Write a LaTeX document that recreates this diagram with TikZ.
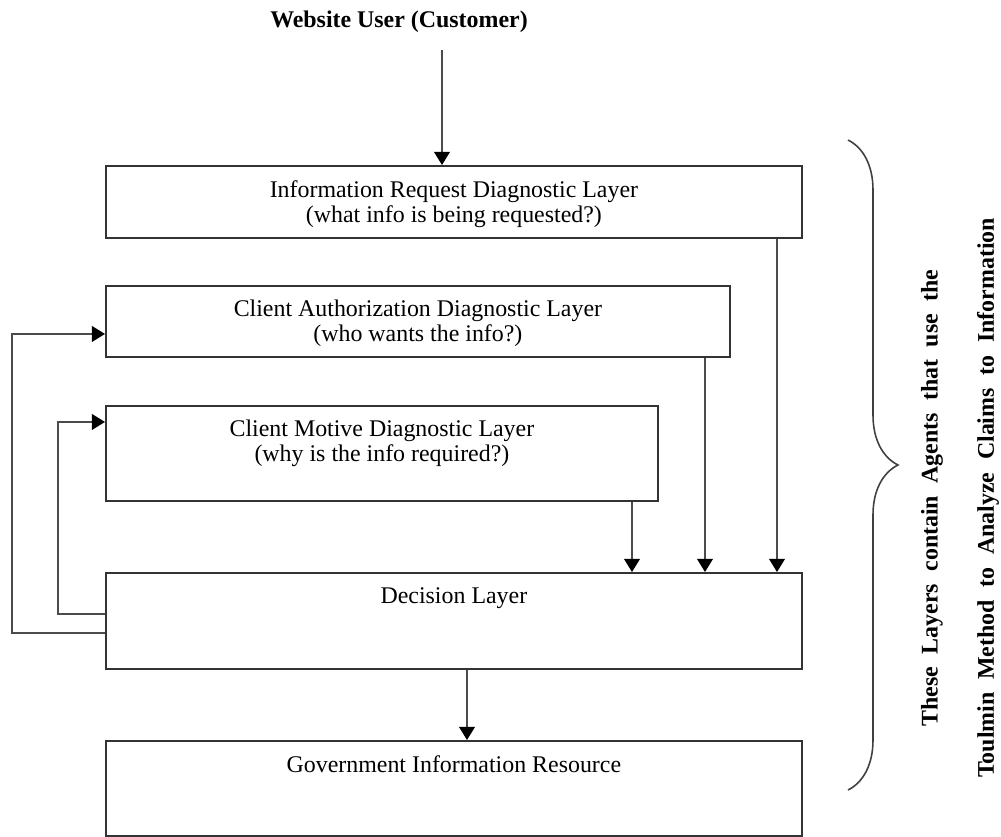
\documentclass[tikz,border=0pt]{standalone}
\usepackage{fontspec}
\setmainfont{Liberation Serif}
\usetikzlibrary{positioning}
\usetikzlibrary{arrows.meta}
\usetikzlibrary{calc}
\usetikzlibrary{decorations.pathreplacing}

\begin{document}
\begin{tikzpicture}[x=0.02cm, y=-0.02cm, font=\fontsize{13.6}{14.2}\selectfont,
  layer/.style={draw=black!80, line width=1.1pt, anchor=north west, inner sep=0pt},
  layer text/.style={inner sep=0pt, align=center},
  link/.style={draw=black!70, line width=0.9pt, -{Triangle[length=7.5pt, width=9pt, color=black]}},
  note/.style={rotate=90, inner sep=0pt, font=\fontsize{13.6}{14.2}\selectfont\bfseries}]

\useasboundingbox (0,0) rectangle (1001,836);

\node[font=\fontsize{13.6}{14.2}\selectfont\bfseries] (user) at (399,22) {Website User (Customer)};

\foreach \name/\y/\w/\h/\phrase in {
    info/165/13.92/1.44/Information Request Diagnostic Layer\\(what info is being requested?),
    auth/285/12.48/1.42/Client Authorization Diagnostic Layer\\(who wants the info?),
    motive/405/11.04/1.90/Client Motive Diagnostic Layer\\(why is the info required?),
    decision/572/13.92/1.92/Decision Layer,
    gov/740/13.92/1.90/Government Information Resource} {
  \node[layer, minimum width=\w cm, minimum height=\h cm] (\name) at (105,\y) {};
  \node[layer text, below=0.3cm of \name.north] (\name-text) {\phrase};
}

% user request comes in at the top
\coordinate (user-out) at (442,50);
\draw[link] (user-out) -- (info.north -| user-out);

% every diagnostic layer reports to the decision layer
\foreach \from/\x in {motive/632, auth/705, info/777} {
  \coordinate (col-\from) at (\x,0);
  \draw[link] (\from.south -| col-\from) -- (decision.north -| col-\from);
}
\coordinate (col-gov) at (467,0);
\draw[link] (decision.south -| col-gov) -- (gov.north -| col-gov);

% feedback loops
\draw[link] ($(decision.west)+(0,12)$) -- ++(-93,0) |- ($(auth.west)+(0,12.5)$);
\draw[link] ($(decision.west)+(0,-7)$) -- ++(-47,0) |- ($(motive.west)+(0,-31.5)$);

\coordinate (brace-top) at (848,140);
\coordinate (brace-bottom) at (848,790);
\draw[black!75, line width=0.9pt, decorate, decoration={brace, amplitude=1cm}]
  (brace-top) -- (brace-bottom);

\node[note] (note-1) at (932,498) {\makebox[9.14cm][s]{These Layers contain Agents that use the}};
\node[note] (note-2) at (988,498) {\makebox[11.2cm][s]{Toulmin Method to Analyze Claims to Information}};
\end{tikzpicture}
\end{document}
